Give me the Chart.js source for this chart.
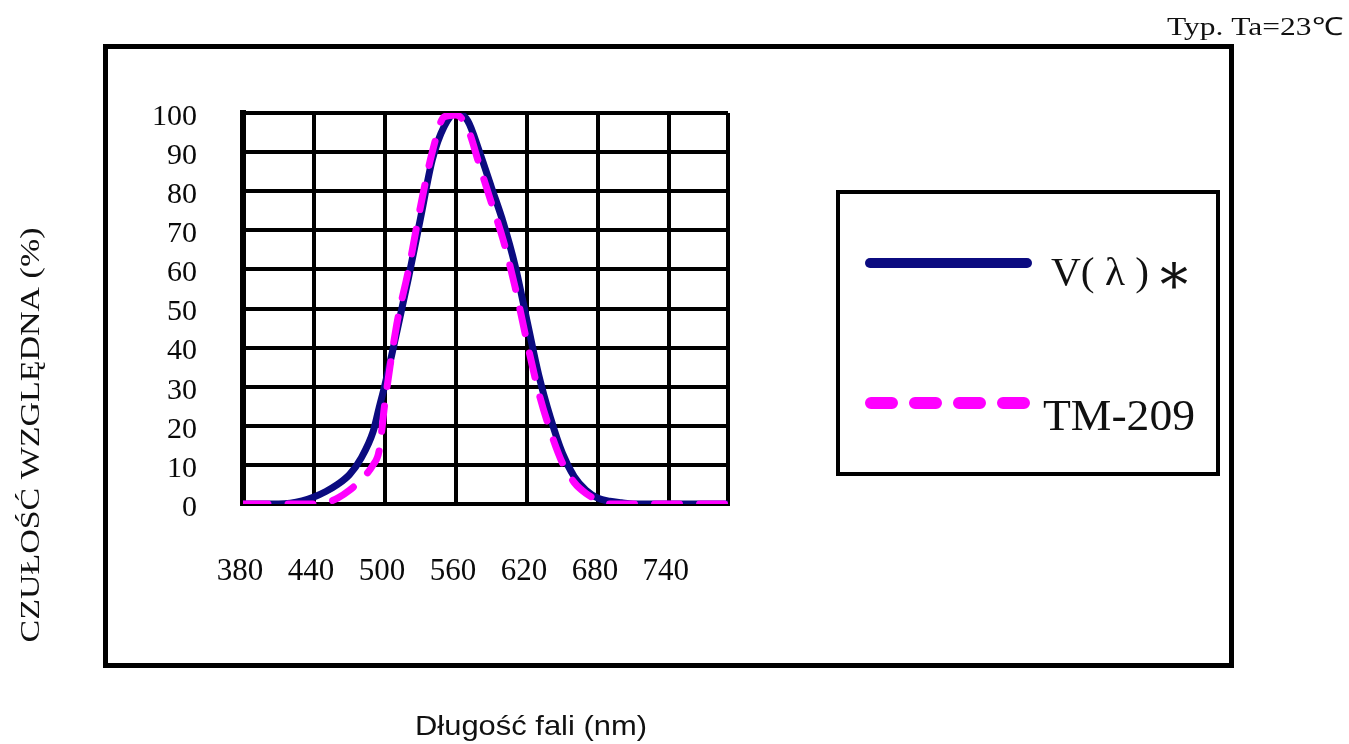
<!DOCTYPE html>
<html><head><meta charset="utf-8">
<script src="https://cdn.jsdelivr.net/npm/chart.js@4.4.1/dist/chart.umd.min.js"></script>
<style>html,body{margin:0;padding:0;background:#fff;overflow:hidden}canvas{display:block}</style>
</head><body>
<canvas id="c" width="1349" height="744"></canvas>
<script>
// ---- data ----
const wavelengths = [380,390,400,410,420,430,440,450,460,470,480,490,495,
  500,510,520,530,540,550,560,570,580,590,
  600,610,620,630,640,650,660,670,680,690,
  700,710,720,730,740,750,760,770,780,790];
const vLambda = [0,0,0,0,0.2,0.8,1.8,3.2,5,7.5,11.8,18.5,24.5,
  30.5,44,58,73,88,96.5,100,98,90,81,
  72,61,47,33,22,13,7,3.5,1.5,0.7,
  0.3,0,0,0,0,0,0,0,0,0];
const tm209 = [0,0,0,0,0,0,0,0.3,1.5,3.5,6.3,10,13.5,
  26,46,60,76,90,99,99.5,96,86.5,77,
  67.5,55.5,41.5,28.5,18.5,10.5,5.5,2.7,1,0,
  0,0,0,0,0,0,0,0,0,0];
const seriesLabels = ['V( λ )*', 'TM-209'];
const xTickLabels = [380,440,500,560,620,680,740];
const xGridValues = [380,440,500,560,620,680,740,790];
const yTickValues = [0,10,20,30,40,50,60,70,80,90,100];
const yAxisTitle = 'CZUŁOŚĆ WZGLĘDNA (%)';
const xAxisTitle = 'Długość fali (nm)';
const noteText = 'Typ. Ta=23℃';

const toPoints = arr => wavelengths.map((w, i) => ({x: w, y: arr[i]}));

function drawFit(ctx, text, targetW) {
  const w = ctx.measureText(text).width;
  ctx.scale(targetW / w, 1);
  ctx.fillText(text, 0, 0);
}
// draw text so that its ink box fills [x0,x1]x[y0,y1]
function drawInBox(ctx, text, x0, y0, x1, y1) {
  const m = ctx.measureText(text);
  const iw = m.actualBoundingBoxLeft + m.actualBoundingBoxRight;
  const ih = m.actualBoundingBoxAscent + m.actualBoundingBoxDescent;
  ctx.save();
  ctx.translate(x0, y0);
  ctx.scale((x1 - x0) / iw, (y1 - y0) / ih);
  ctx.textAlign = 'left';
  ctx.textBaseline = 'alphabetic';
  ctx.fillText(text, m.actualBoundingBoxLeft, m.actualBoundingBoxAscent);
  ctx.restore();
}

const decor = {
  id: 'decor',
  beforeDraw(chart) {
    const ctx = chart.ctx;
    ctx.save();
    ctx.fillStyle = '#fff';
    ctx.fillRect(0, 0, chart.width, chart.height);
    ctx.restore();
  },
  afterDraw(chart) {
    const ctx = chart.ctx;
    const ds = chart.data.datasets;
    ctx.save();
    // outer frame
    ctx.strokeStyle = '#000';
    ctx.lineWidth = 5;
    ctx.strokeRect(105.5, 46.5, 1126, 619);
    // legend box
    ctx.lineWidth = 4;
    ctx.strokeRect(838, 192, 380, 282);
    // legend samples
    ctx.lineCap = 'round';
    ctx.strokeStyle = ds[0].borderColor;
    ctx.lineWidth = 10;
    ctx.setLineDash([]);
    ctx.beginPath(); ctx.moveTo(870, 263); ctx.lineTo(1027, 263); ctx.stroke();
    ctx.strokeStyle = ds[1].borderColor;
    ctx.lineWidth = 12;
    ctx.setLineDash([21, 23]);
    ctx.beginPath(); ctx.moveTo(871, 403); ctx.lineTo(1026, 403); ctx.stroke();
    ctx.setLineDash([]);
    // legend texts
    ctx.fillStyle = '#111';
    ctx.textAlign = 'left';
    ctx.textBaseline = 'alphabetic';
    const lab0 = ds[0].label;
    const main0 = lab0.slice(0, -1), star0 = lab0.slice(-1);
    ctx.font = '40px "Liberation Serif"';
    ctx.save(); ctx.translate(1051, 285); drawFit(ctx, main0, 98); ctx.restore();
    ctx.font = '40px "DejaVu Serif"';
    drawInBox(ctx, star0, 1160, 263, 1188, 289);
    ctx.font = '45px "Liberation Serif"';
    ctx.save(); ctx.translate(1043, 430); drawFit(ctx, ds[1].label, 152); ctx.restore();
    // note top right
    ctx.font = '25px "Liberation Serif"';
    ctx.save(); ctx.translate(1167, 35); drawFit(ctx, noteText, 176); ctx.restore();
    // y axis title
    ctx.font = '27px "Liberation Serif"';
    ctx.textAlign = 'center';
    ctx.save(); ctx.translate(39, 435); ctx.rotate(-Math.PI / 2); drawFit(ctx, yAxisTitle, 415); ctx.restore();
    // x axis title
    ctx.font = '28px "Liberation Sans"';
    ctx.save(); ctx.translate(531, 735); drawFit(ctx, xAxisTitle, 232); ctx.restore();
    ctx.restore();
  }
};

new Chart(document.getElementById('c'), {
  type: 'line',
  data: {
    datasets: [
      {label: seriesLabels[0], data: toPoints(vLambda), borderColor: '#0b0b80',
       borderWidth: 7, pointRadius: 0, cubicInterpolationMode: 'monotone',
       borderCapStyle: 'round', borderJoinStyle: 'round', fill: false, order: 2},
      {label: seriesLabels[1], data: toPoints(tm209), borderColor: '#ff00ff',
       borderWidth: 7, pointRadius: 0, cubicInterpolationMode: 'monotone',
       borderDash: [25, 20], borderCapStyle: 'round', borderJoinStyle: 'round', fill: false, order: 1}
    ]
  },
  options: {
    responsive: false,
    devicePixelRatio: 1,
    animation: false,
    layout: {padding: {left: 0, top: 113, right: 621, bottom: 0}},
    plugins: {legend: {display: false}, title: {display: false}, tooltip: {enabled: false}},
    scales: {
      x: {
        type: 'linear', min: 380, max: 790,
        afterBuildTicks: s => { s.ticks = xGridValues.map(v => ({value: v})); },
        afterFit: s => { s.height = 240; },
        grid: {color: '#000', lineWidth: 4, drawTicks: false},
        border: {display: true, color: '#000', width: 4},
        ticks: {
          padding: 49, labelOffset: -3, autoSkip: false, maxRotation: 0, color: '#0a0a0a',
          font: {family: 'Liberation Serif', size: 31},
          callback: v => xTickLabels.includes(v) ? String(v) : ''
        }
      },
      y: {
        type: 'linear', min: 0, max: 100,
        afterBuildTicks: s => { s.ticks = yTickValues.map(v => ({value: v})); },
        afterFit: s => { s.width = 243; },
        grid: {color: '#000', lineWidth: 4, drawTicks: false},
        border: {display: true, color: '#000', width: 6},
        ticks: {
          padding: 46, labelOffset: 4, autoSkip: false, color: '#0a0a0a',
          font: {family: 'Liberation Serif', size: 30}
        }
      }
    }
  },
  plugins: [decor]
});
</script>
</body></html>
